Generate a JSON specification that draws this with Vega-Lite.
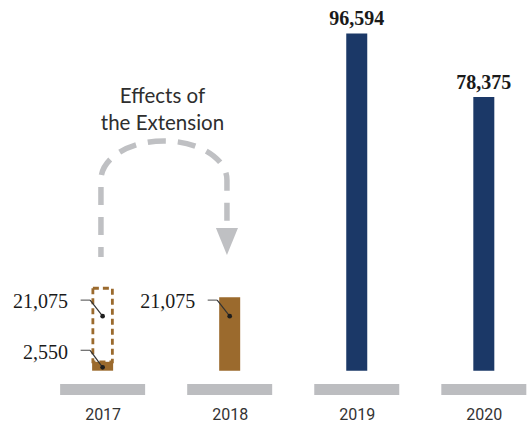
{
  "$schema": "https://vega.github.io/schema/vega-lite/v6.json",
  "width": 531,
  "height": 395,
  "autosize": "none",
  "padding": {"left": 0, "top": 0, "right": 0, "bottom": 28},
  "background": "white",
  "config": {"view": {"stroke": null}},
  "data": {
    "values": [
      {"year": 2017, "kind": "actual", "seq": 1, "group": "extension", "value": 2550},
      {"year": 2017, "kind": "projected", "seq": 2, "group": "extension", "value": 21075},
      {"year": 2018, "kind": "actual", "seq": 1, "group": "extension", "value": 21075},
      {"year": 2019, "kind": "actual", "seq": 1, "group": "full", "value": 96594},
      {"year": 2020, "kind": "actual", "seq": 1, "group": "full", "value": 78375}
    ]
  },
  "encoding": {
    "x": {
      "field": "year",
      "type": "quantitative",
      "scale": {"domain": [2016.2317, 2020.332], "nice": false, "zero": false},
      "axis": {
        "values": [2017, 2018, 2019, 2020],
        "format": "d",
        "title": null,
        "domain": false,
        "ticks": false,
        "grid": false,
        "labelPadding": 11.5,
        "labelFont": "Roboto",
        "labelFontSize": 16,
        "labelColor": "#333333",
        "labelBaseline": "top"
      }
    }
  },
  "layer": [
    {
      "transform": [{"filter": "datum.kind == 'actual'"}],
      "mark": {"type": "bar", "orient": "vertical", "width": 85, "color": "#bcbdc0"},
      "encoding": {
        "y": {"datum": -3810, "scale": {"domain": [-6961, 106190], "nice": false, "zero": false}, "axis": null},
        "y2": {"datum": -6961}
      }
    },
    {
      "transform": [
        {"stack": "value", "groupby": ["year"], "sort": [{"field": "seq"}], "as": ["v0", "v1"]},
        {"filter": "datum.kind == 'actual'"}
      ],
      "mark": {"type": "bar", "orient": "vertical", "width": 21},
      "encoding": {
        "y": {"field": "v1", "type": "quantitative"},
        "y2": {"field": "v0"},
        "fill": {
          "field": "group",
          "type": "nominal",
          "scale": {"domain": ["extension", "full"], "range": ["#9b6a2d", "#1b3867"]},
          "legend": null
        }
      }
    },
    {
      "transform": [
        {"stack": "value", "groupby": ["year"], "sort": [{"field": "seq"}], "as": ["v0", "v1"]},
        {"filter": "datum.kind == 'projected'"}
      ],
      "mark": {"type": "bar", "orient": "vertical", "width": 19.5, "fill": "white", "fillOpacity": 0, "stroke": "#9b6a2d", "strokeWidth": 2.8, "strokeDash": [6, 4]},
      "encoding": {
        "y": {"field": "v1", "type": "quantitative"},
        "y2": {"field": "v0"}
      }
    },
    {
      "transform": [{"filter": "datum.year >= 2019"}],
      "mark": {"type": "text", "font": "Liberation Serif", "fontWeight": "bold", "fontSize": 20, "color": "#1a1a1a", "align": "center", "baseline": "alphabetic", "dy": -8},
      "encoding": {
        "y": {"field": "value", "type": "quantitative"},
        "text": {"field": "value", "type": "quantitative", "format": ","}
      }
    },
    {
      "transform": [{"filter": "datum.year <= 2018 && datum.value > 10000"}],
      "mark": {"type": "text", "font": "Liberation Serif", "fontSize": 20, "color": "#1a1a1a", "align": "right", "baseline": "alphabetic", "dx": -34.5, "dy": 11.2},
      "encoding": {
        "y": {"field": "value", "type": "quantitative"},
        "text": {"field": "value", "type": "quantitative", "format": ","}
      }
    },
    {
      "transform": [{"filter": "datum.year <= 2018 && datum.value < 10000"}],
      "mark": {"type": "text", "font": "Liberation Serif", "fontSize": 20, "color": "#1a1a1a", "align": "right", "baseline": "alphabetic", "dx": -34.5, "dy": -2.5},
      "encoding": {
        "y": {"field": "value", "type": "quantitative"},
        "text": {"field": "value", "type": "quantitative", "format": ","}
      }
    },
    {
      "transform": [{"filter": "datum.year <= 2018 && datum.value > 10000"}],
      "mark": {"type": "rule", "color": "#666666", "strokeWidth": 1.2, "xOffset": -22, "x2Offset": -12.5, "yOffset": 3, "y2Offset": 3},
      "encoding": {
        "x2": {"field": "year"},
        "y": {"field": "value", "type": "quantitative"},
        "y2": {"field": "value"}
      }
    },
    {
      "transform": [{"filter": "datum.year <= 2018 && datum.value > 10000"}],
      "mark": {"type": "rule", "color": "#333333", "strokeWidth": 1.2, "xOffset": -12.5, "x2Offset": 0, "yOffset": 3, "y2Offset": 19},
      "encoding": {
        "x2": {"field": "year"},
        "y": {"field": "value", "type": "quantitative"},
        "y2": {"field": "value"}
      }
    },
    {
      "transform": [{"filter": "datum.year <= 2018 && datum.value > 10000"}],
      "mark": {"type": "point", "filled": true, "size": 22, "color": "#1e1e1e", "opacity": 1, "yOffset": 19},
      "encoding": {
        "y": {"field": "value", "type": "quantitative"}
      }
    },
    {
      "transform": [{"filter": "datum.year <= 2018 && datum.value < 10000"}],
      "mark": {"type": "rule", "color": "#666666", "strokeWidth": 1.2, "xOffset": -22, "x2Offset": -12.5, "yOffset": -11.5, "y2Offset": -11.5},
      "encoding": {
        "x2": {"field": "year"},
        "y": {"field": "value", "type": "quantitative"},
        "y2": {"field": "value"}
      }
    },
    {
      "transform": [{"filter": "datum.year <= 2018 && datum.value < 10000"}],
      "mark": {"type": "rule", "color": "#333333", "strokeWidth": 1.2, "xOffset": -12.5, "x2Offset": 0, "yOffset": -11.5, "y2Offset": 5.5},
      "encoding": {
        "x2": {"field": "year"},
        "y": {"field": "value", "type": "quantitative"},
        "y2": {"field": "value"}
      }
    },
    {
      "transform": [{"filter": "datum.year <= 2018 && datum.value < 10000"}],
      "mark": {"type": "point", "filled": true, "size": 22, "color": "#1e1e1e", "opacity": 1, "yOffset": 5.5},
      "encoding": {
        "y": {"field": "value", "type": "quantitative"}
      }
    },
    {
      "transform": [{"filter": "datum.year == 2017 && datum.kind == 'actual'"}],
      "mark": {
        "type": "point",
        "filled": false,
        "opacity": 1,
        "size": 15876,
        "shape": "M -1 0.921 L -1 -0.302 C -1 -0.644 -0.552 -0.921 0 -0.921 C 0.552 -0.921 1 -0.644 1 -0.302 L 1 0.365",
        "stroke": "#bfc0c3",
        "strokeWidth": 5.5,
        "strokeDash": [18, 12],
        "strokeDashOffset": 8
      },
      "encoding": {
        "x": {"datum": 2017.4826},
        "y": {"datum": 49200}
      }
    },
    {
      "transform": [{"filter": "datum.year == 2017 && datum.kind == 'actual'"}],
      "mark": {
        "type": "point",
        "filled": true,
        "opacity": 1,
        "size": 15876,
        "shape": "M 0.825 0.46 L 1.175 0.46 L 1 0.889 Z",
        "color": "#bfc0c3",
        "strokeWidth": 0
      },
      "encoding": {
        "x": {"datum": 2017.4826},
        "y": {"datum": 49200}
      }
    },
    {
      "transform": [{"filter": "datum.year == 2017 && datum.kind == 'actual'"}],
      "mark": {
        "type": "text",
        "text": ["Effects of", "the Extension"],
        "font": "Lato",
        "fontWeight": 400,
        "fontSize": 20.5,
        "lineHeight": 27,
        "color": "#2e2e2e",
        "align": "center",
        "baseline": "alphabetic"
      },
      "encoding": {
        "x": {"datum": 2017.471},
        "y": {"datum": 76700}
      }
    }
  ]
}
